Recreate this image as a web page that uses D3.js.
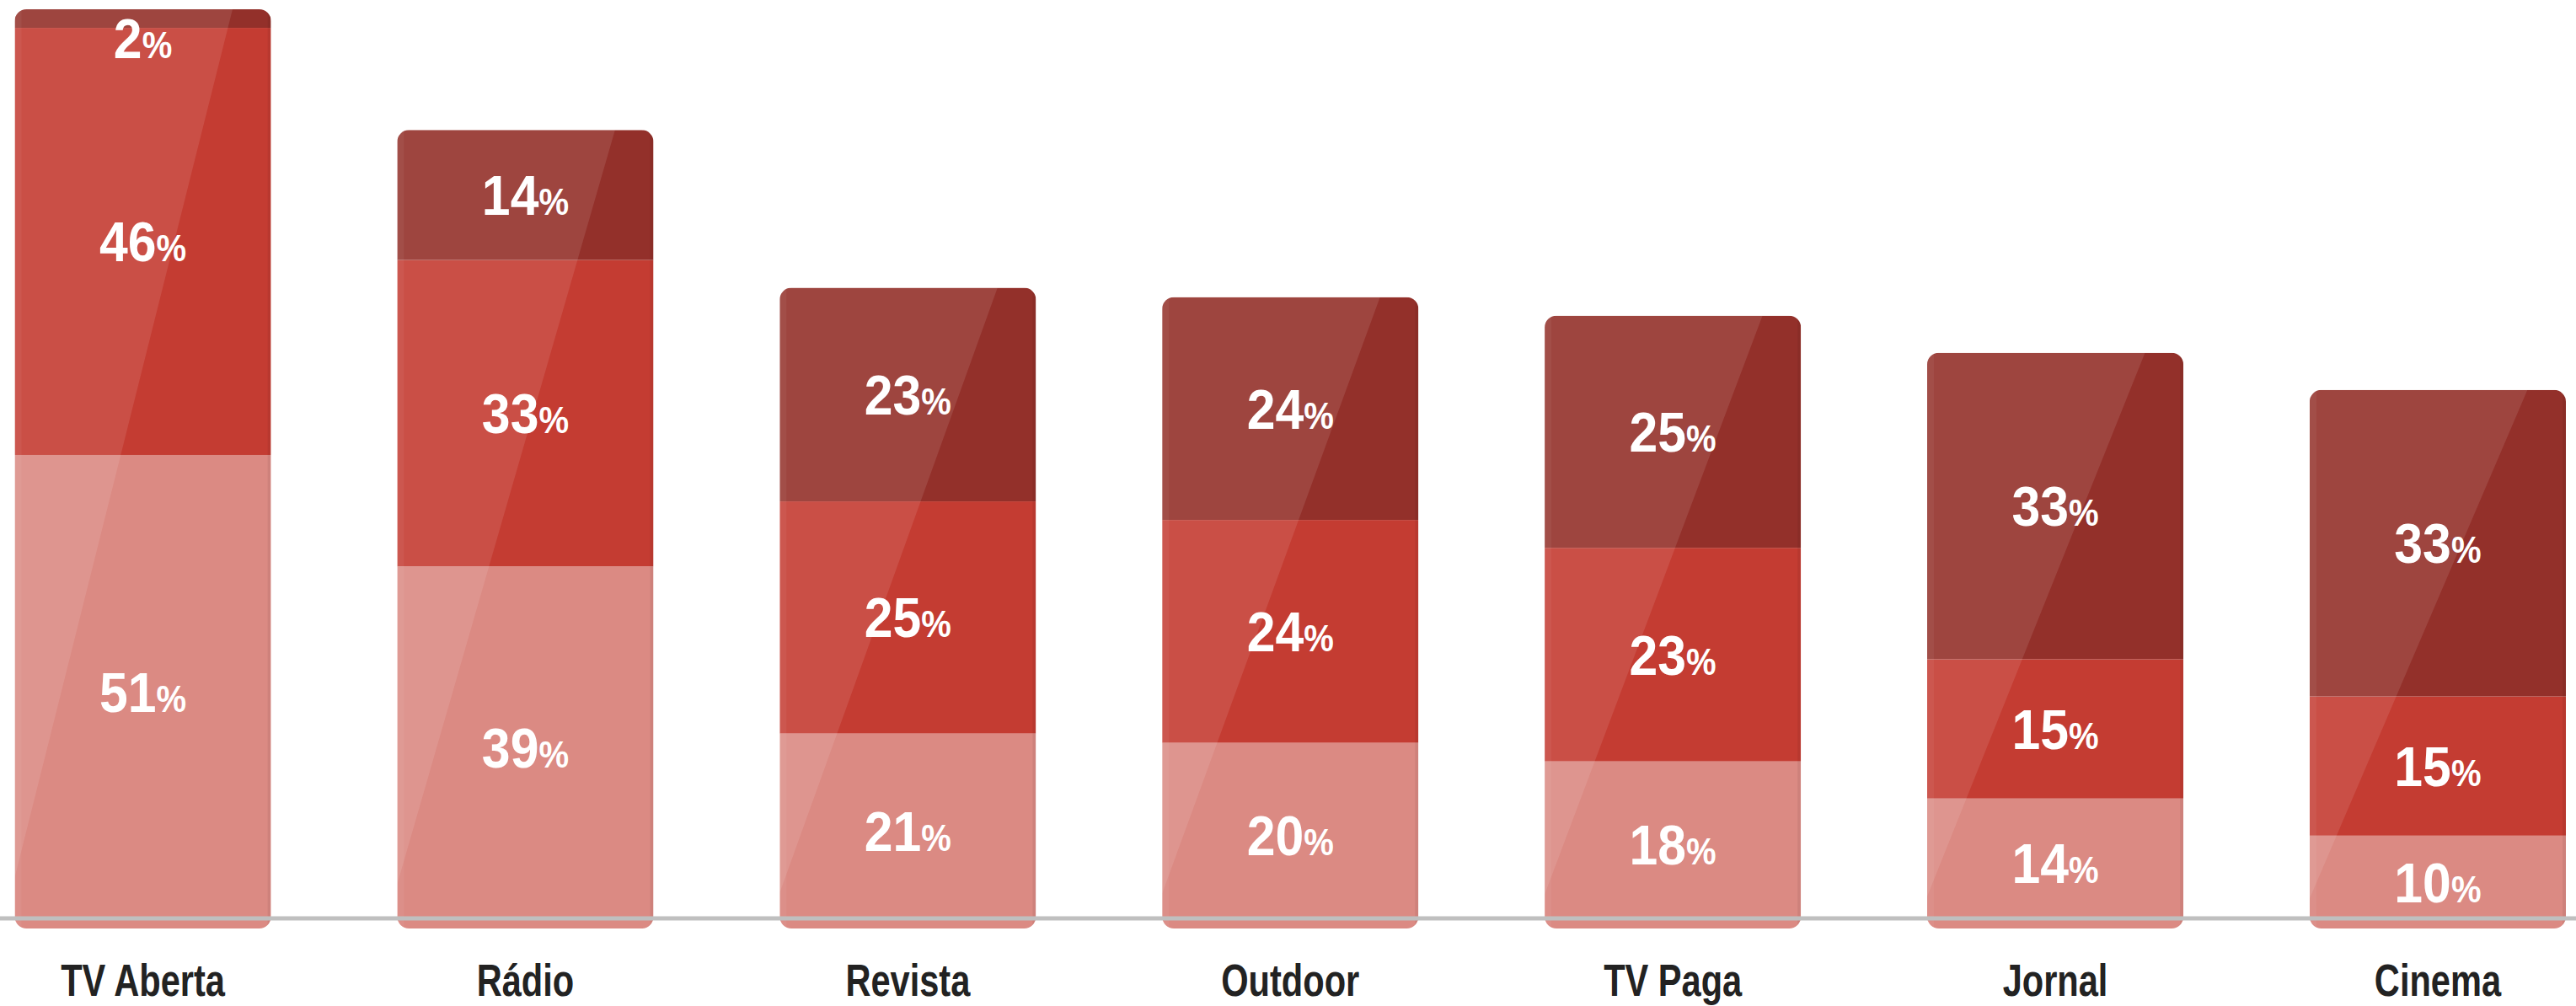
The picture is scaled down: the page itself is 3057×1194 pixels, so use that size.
<!DOCTYPE html>
<html lang="pt">
<head>
<meta charset="utf-8">
<script src="https://cdn.jsdelivr.net/npm/d3@7"></script>
<style>
  html, body { margin: 0; padding: 0; background: #ffffff; }
  svg { display: block; }
  .cat { font-family: "Liberation Sans", Arial, sans-serif; font-weight: 700; fill: #222222; }
  .val { font-family: "Liberation Sans", Arial, sans-serif; font-weight: 700; fill: #ffffff; }
</style>
</head>
<body>
<svg id="chart"></svg>
<script>
// Media categories along the x axis
const categories = ["TV Aberta", "Rádio", "Revista", "Outdoor", "TV Paga", "Jornal", "Cinema"];

// Stacked shares (%), from the base of each column upwards
const baseValues   = [51, 39, 21, 20, 18, 14, 10];
const middleValues = [46, 33, 25, 24, 23, 15, 15];
const topValues    = [2, 14, 23, 24, 25, 33, 33];

const seriesKeys = ["base", "middle", "top"];
const seriesColors = ["#db8a83", "#c43c32", "#93302a"];

const W = 3057, H = 1194;
const svg = d3.select("#chart").attr("width", W).attr("height", H);

const rows = categories.map((c, i) => ({
  category: c,
  base: baseValues[i],
  middle: middleValues[i],
  top: topValues[i]
}));

const x = d3.scaleBand()
  .domain(categories)
  .range([17.5, 3045])
  .paddingInner(0.33)
  .paddingOuter(0);

const y = d3.scaleLinear().domain([0, 100]).range([1102, 0]);

const stacked = d3.stack().keys(seriesKeys)(rows);

// rounded rectangle outline for a whole column
function roundedRect(x0, y0, w, h, r) {
  const p = d3.path();
  p.moveTo(x0 + r, y0);
  p.lineTo(x0 + w - r, y0);
  p.arcTo(x0 + w, y0, x0 + w, y0 + r, r);
  p.lineTo(x0 + w, y0 + h - r);
  p.arcTo(x0 + w, y0 + h, x0 + w - r, y0 + h, r);
  p.lineTo(x0 + r, y0 + h);
  p.arcTo(x0, y0 + h, x0, y0 + h - r, r);
  p.lineTo(x0, y0 + r);
  p.arcTo(x0, y0, x0 + r, y0, r);
  p.closePath();
  return p.toString();
}

const defs = svg.append("defs");
const radius = 14;
const bw = x.bandwidth();

rows.forEach((d, i) => {
  const total = d.base + d.middle + d.top;
  defs.append("clipPath").attr("id", "col-" + i)
    .append("path")
    .attr("d", roundedRect(x(d.category), y(total), bw, y(0) - y(total), radius));
});

const columns = svg.append("g").selectAll("g.column")
  .data(rows)
  .join("g")
  .attr("class", "column")
  .attr("clip-path", (d, i) => `url(#col-${i})`);

// stacked segments
columns.each(function (d, i) {
  const g = d3.select(this);
  stacked.forEach((layer, k) => {
    const seg = layer[i];
    g.append("rect")
      .attr("x", x(d.category))
      .attr("y", y(seg[1]))
      .attr("width", bw)
      .attr("height", y(seg[0]) - y(seg[1]))
      .attr("fill", seriesColors[k]);
  });
});

// glossy diagonal sheen over the left part of each column
columns.append("path")
  .attr("d", d => {
    const total = d.base + d.middle + d.top;
    const x0 = x(d.category), yt = y(total), yb = y(0);
    return `M${x0 - 2},${yt} L${x0 + bw * 0.85},${yt} L${x0 - bw * 0.05},${yb} L${x0 - 2},${yb} Z`;
  })
  .attr("fill", "#ffffff")
  .attr("fill-opacity", 0.1);

// soft edge shading on the left and right sides
columns.append("rect")
  .attr("x", d => x(d.category))
  .attr("y", 0)
  .attr("width", 8)
  .attr("height", H)
  .attr("fill", "#ffffff")
  .attr("fill-opacity", 0.05);
columns.append("rect")
  .attr("x", d => x(d.category) + bw - 4)
  .attr("y", 0)
  .attr("width", 4)
  .attr("height", H)
  .attr("fill", "#000000")
  .attr("fill-opacity", 0.06);

// baseline
svg.append("line")
  .attr("x1", 0).attr("x2", W)
  .attr("y1", 1090).attr("y2", 1090)
  .attr("stroke", "#bfbfbf")
  .attr("stroke-width", 5);

// value labels inside segments
const valFont = 66;
const labels = svg.append("g");
stacked.forEach((layer, k) => {
  layer.forEach((seg, i) => {
    const d = rows[i];
    const total = d.base + d.middle + d.top;
    const v = seg[1] - seg[0];
    let cy = (y(seg[0]) + y(seg[1])) / 2;
    cy = Math.max(cy, y(total) + 34);
    const cx = x(d.category) + bw / 2;
    const t = labels.append("text")
      .attr("class", "val")
      .attr("transform", `translate(${cx},${cy + valFont * 0.358}) scale(0.92,1)`)
      .attr("text-anchor", "middle")
      .attr("font-size", valFont);
    t.append("tspan").text(v);
    t.append("tspan").attr("font-size", valFont * 0.66).text("%");
  });
});

// category axis labels (condensed bold)
const xAxis = d3.axisBottom(x).tickSize(0).tickPadding(0);
const axisG = svg.append("g")
  .attr("transform", "translate(0,1182)")
  .call(xAxis);
axisG.select(".domain").remove();
axisG.selectAll("text")
  .attr("class", "cat")
  .attr("dy", 0)
  .attr("font-size", 54)
  .attr("fill", "#222222")
  .attr("transform", "scale(0.77,1)");
</script>
</body>
</html>
